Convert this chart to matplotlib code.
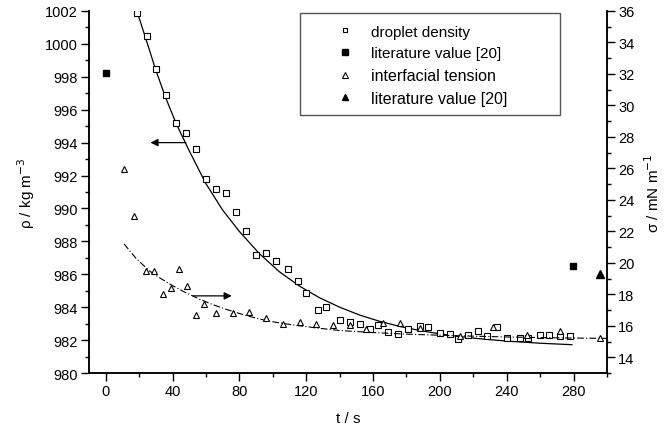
import matplotlib
matplotlib.use("Agg")
import matplotlib.pyplot as plt
from matplotlib.patches import Rectangle
from matplotlib.ticker import MultipleLocator

plt.rcParams["font.family"] = ["Liberation Sans", "DejaVu Sans"]
plt.rcParams["font.size"] = 10.5

# droplet density (open squares)
t_dichte = [19, 25, 30, 36, 42, 48, 54, 60, 66, 72, 78, 84, 90, 96, 102, 109, 115,
            120, 127, 132, 140, 146, 152, 158, 163, 169, 175, 181, 188, 193, 200,
            206, 211, 217, 223, 228, 234, 240, 248, 253, 260, 265, 272, 278]
rho = [1001.9, 1000.5, 998.5, 996.9, 995.2, 994.6, 993.6, 991.8, 991.2, 990.95,
       989.77, 988.6, 987.2, 987.3, 986.8, 986.3, 985.6, 984.85, 983.8, 984.0,
       983.2, 983.1, 983.0, 982.65, 982.9, 982.5, 982.4, 982.65, 982.85, 982.8,
       982.45, 982.4, 982.05, 982.3, 982.55, 982.25, 982.8, 982.1, 982.1, 982.1,
       982.3, 982.3, 982.25, 982.25]

# density fit curve
t_fit_rho = [19, 25, 30, 36, 42, 50, 60, 70, 80, 92, 104, 116, 128, 140, 152, 164,
             176, 188, 200, 212, 224, 240, 260, 279]
fit_rho = [1001.9, 1000.0, 998.4, 996.7, 995.2, 993.5, 991.5, 989.9, 988.6, 987.25,
           986.15, 985.28, 984.57, 984.0, 983.52, 983.14, 982.83, 982.58, 982.38,
           982.21, 982.08, 981.94, 981.81, 981.72]

# literature density values (filled squares)
t_lit_rho = [0, 279.5]
lit_rho = [998.2, 986.5]

# interfacial tension (open triangles)
t_sigma = [10.8, 16.8, 24, 28.8, 34, 39, 43.8, 48.8, 54, 59, 66, 76, 86, 96, 106,
           116, 126, 136, 146, 156, 166, 176, 188, 212, 232, 252, 272, 296]
sigma = [25.95, 23.0, 19.45, 19.5, 18.0, 18.4, 19.6, 18.5, 16.7, 17.4, 16.8, 16.8,
         16.9, 16.5, 16.1, 16.25, 16.1, 16.05, 16.06, 15.8, 16.15, 16.15, 15.87,
         15.35, 15.9, 15.4, 15.65, 15.2]

# tension fit curve (dash-dot)
t_fit_sigma = [11, 18, 26, 33, 40, 48, 56, 64, 72, 84, 96, 106, 116, 128, 140, 160,
               180, 200, 220, 240, 260, 280, 300]
fit_sigma = [21.2, 20.3, 19.5, 19.0, 18.55, 18.1, 17.7, 17.35, 17.05, 16.65, 16.33,
             16.15, 16.0, 15.84, 15.7, 15.57, 15.47, 15.4, 15.34, 15.29, 15.25,
             15.22, 15.2]

# literature tension value (filled triangle)
t_lit_sigma = [296]
lit_sigma = [19.3]

fig = plt.figure(figsize=(6.68, 4.27), dpi=100)
ax = fig.add_axes([0.1332, 0.1241, 0.7755, 0.8479])
ax2 = ax.twinx()

ax.plot(t_fit_rho, fit_rho, color="black", lw=0.9)
l1, = ax.plot(t_dichte, rho, ls="none", marker="s", ms=4.2, mfc="white", mec="black",
              mew=0.8, label="droplet density")
l2, = ax.plot(t_lit_rho, lit_rho, ls="none", marker="s", ms=5, mfc="black", mec="black",
              label="literature value [20]")

ax2.plot(t_fit_sigma, fit_sigma, color="black", lw=0.8, ls=(0, (6, 2, 1, 2)))
l3, = ax2.plot(t_sigma, sigma, ls="none", marker="^", ms=5, mfc="white", mec="black",
               mew=0.8, label="interfacial tension")
l4, = ax2.plot(t_lit_sigma, lit_sigma, ls="none", marker="^", ms=5.5, mfc="black",
               mec="black", label="literature value [20]")

# arrows pointing to the axis of each data set
ax.annotate("", xy=(26.8, 994.0), xytext=(48, 994.0),
            arrowprops=dict(arrowstyle="-|>", color="black", lw=0.9,
                            mutation_scale=11, shrinkA=0, shrinkB=0))
ax2.annotate("", xy=(75.4, 17.9), xytext=(52.3, 17.9),
             arrowprops=dict(arrowstyle="-|>", color="black", lw=0.9,
                             mutation_scale=11, shrinkA=0, shrinkB=0))

ax.set_xlim(-10, 300)
ax.set_ylim(980, 1002)
ax2.set_ylim(13, 36)

ax.xaxis.set_major_locator(MultipleLocator(40))
ax.xaxis.set_minor_locator(MultipleLocator(20))
ax.yaxis.set_major_locator(MultipleLocator(2))
ax.yaxis.set_minor_locator(MultipleLocator(1))
ax2.yaxis.set_major_locator(MultipleLocator(2))
ax2.yaxis.set_minor_locator(MultipleLocator(1))

for a in (ax, ax2):
    a.spines["top"].set_visible(False)
    for s in ("left", "right", "bottom"):
        a.spines[s].set_linewidth(1.1)
    a.tick_params(which="major", direction="out", length=5.5, width=1.0, pad=2.5,
                  labelsize=10.5)
    a.tick_params(which="minor", direction="out", length=3, width=1.0)

ax.set_xlabel("t / s", labelpad=9, fontsize=11)
ax.set_ylabel(r"ρ / kg m$^{-3}$", labelpad=6, fontsize=11)
ax2.set_ylabel(r"σ / mN m$^{-1}$", labelpad=6, fontsize=11)

# legend frame drawn separately, entries placed inside it
ax.add_patch(Rectangle((0.407, 0.713), 0.502, 0.281, transform=ax.transAxes,
                       fill=True, facecolor="white", edgecolor="#555555", lw=1.0,
                       zorder=5))
leg = ax.legend(handles=[l1, l2, l3, l4], loc="upper left",
                bbox_to_anchor=(0.477, 0.962), borderaxespad=0, borderpad=0,
                fontsize=11, markerscale=0.8, handlelength=1.2, handletextpad=1.1,
                labelspacing=0.5, frameon=False)
leg.set_zorder(6)
leg.texts[2].set_fontsize(11.5)
leg.texts[3].set_fontsize(11.5)

fig.savefig("out.png", dpi=100)
